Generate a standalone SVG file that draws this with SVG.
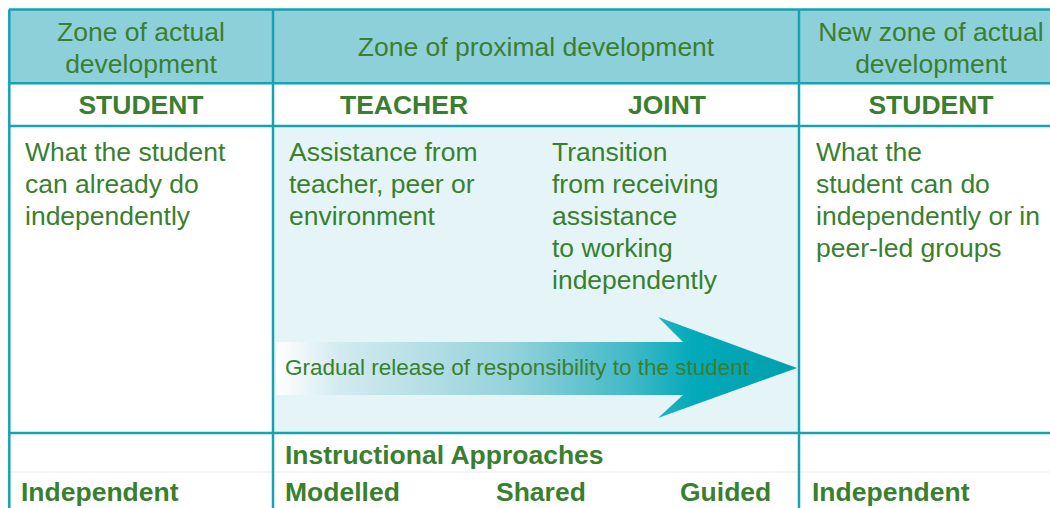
<svg xmlns="http://www.w3.org/2000/svg" width="1050" height="508" viewBox="0 0 1050 508">
<style>
  text { font-family: "Liberation Sans", Arial, sans-serif; fill: #3a7f30; }
  .h { font-size: 26.5px; text-anchor: middle; }
  .b { font-size: 26.5px; font-weight: bold; }
  .bc { font-size: 26.5px; font-weight: bold; text-anchor: middle; }
  .t { font-size: 26.5px; }
  .s { font-size: 22.5px; }
  .grid { stroke: #14a3b3; stroke-width: 2.5; fill: none; }
</style>
<defs>
  <linearGradient id="arrowGrad" x1="276" y1="0" x2="797" y2="0" gradientUnits="userSpaceOnUse">
    <stop offset="0" stop-color="#ffffff"/>
    <stop offset="0.12" stop-color="#d3ebef"/>
    <stop offset="0.45" stop-color="#95d2db"/>
    <stop offset="0.68" stop-color="#42b9c7"/>
    <stop offset="0.8" stop-color="#03aaba"/>
    <stop offset="1" stop-color="#009fae"/>
  </linearGradient>
</defs>
<rect x="0" y="0" width="1050" height="508" fill="#ffffff"/>
<g id="backgrounds">
  <rect x="9" y="9" width="1041" height="74" fill="#8ed0da"/>
  <rect x="273" y="126" width="526" height="307" fill="#e5f4f6"/>
  <line x1="10" y1="472" x2="1050" y2="472" stroke="#eef3f3" stroke-width="1.5"/>
</g>
<g id="grid">
  <line class="grid" x1="9.3" y1="9.5" x2="9.3" y2="508"/>
  <line class="grid" x1="9" y1="9.5" x2="1050" y2="9.5"/>
  <line class="grid" x1="9" y1="83.3" x2="1050" y2="83.3"/>
  <line class="grid" x1="9" y1="126" x2="1050" y2="126"/>
  <line class="grid" x1="9" y1="433" x2="1050" y2="433"/>
  <line class="grid" x1="273" y1="9.5" x2="273" y2="508"/>
  <line class="grid" x1="799" y1="9.5" x2="799" y2="508"/>
</g>
<g id="header-actual">
  <text class="h" x="141" y="41">Zone of actual</text>
  <text class="h" x="141" y="73">development</text>
</g>
<g id="header-proximal">
  <text class="h" x="536" y="56">Zone of proximal development</text>
</g>
<g id="header-new">
  <text class="h" x="931" y="41">New zone of actual</text>
  <text class="h" x="931" y="73">development</text>
</g>
<g id="role-student-left"><text class="bc" x="141" y="114">STUDENT</text></g>
<g id="role-teacher"><text class="bc" x="404" y="114">TEACHER</text></g>
<g id="role-joint"><text class="bc" x="667" y="114">JOINT</text></g>
<g id="role-student-right"><text class="bc" x="931" y="114">STUDENT</text></g>
<g id="desc-student-left">
  <text class="t" x="25" y="161">What the student</text>
  <text class="t" x="25" y="193">can already do</text>
  <text class="t" x="25" y="225">independently</text>
</g>
<g id="desc-teacher">
  <text class="t" x="289" y="161">Assistance from</text>
  <text class="t" x="289" y="193">teacher, peer or</text>
  <text class="t" x="289" y="225">environment</text>
</g>
<g id="desc-joint">
  <text class="t" x="552" y="161">Transition</text>
  <text class="t" x="552" y="193">from receiving</text>
  <text class="t" x="552" y="225">assistance</text>
  <text class="t" x="552" y="257">to working</text>
  <text class="t" x="552" y="289">independently</text>
</g>
<g id="desc-student-right">
  <text class="t" x="816" y="161">What the</text>
  <text class="t" x="816" y="193">student can do</text>
  <text class="t" x="816" y="225">independently or in</text>
  <text class="t" x="816" y="257">peer-led groups</text>
</g>
<g id="arrow">
  <path d="M276,342 L683,342 L658,317 L797,368 L658,418 L683,395 L276,395 Z" fill="url(#arrowGrad)"/>
  <text class="s" x="285" y="375">Gradual release of responsibility to the student</text>
</g>
<g id="approaches">
  <text class="b" x="285" y="464">Instructional Approaches</text>
  <text class="b" x="21" y="501">Independent</text>
  <text class="b" x="285" y="501">Modelled</text>
  <text class="b" x="496" y="501">Shared</text>
  <text class="b" x="680" y="501">Guided</text>
  <text class="b" x="812" y="501">Independent</text>
</g>
</svg>
